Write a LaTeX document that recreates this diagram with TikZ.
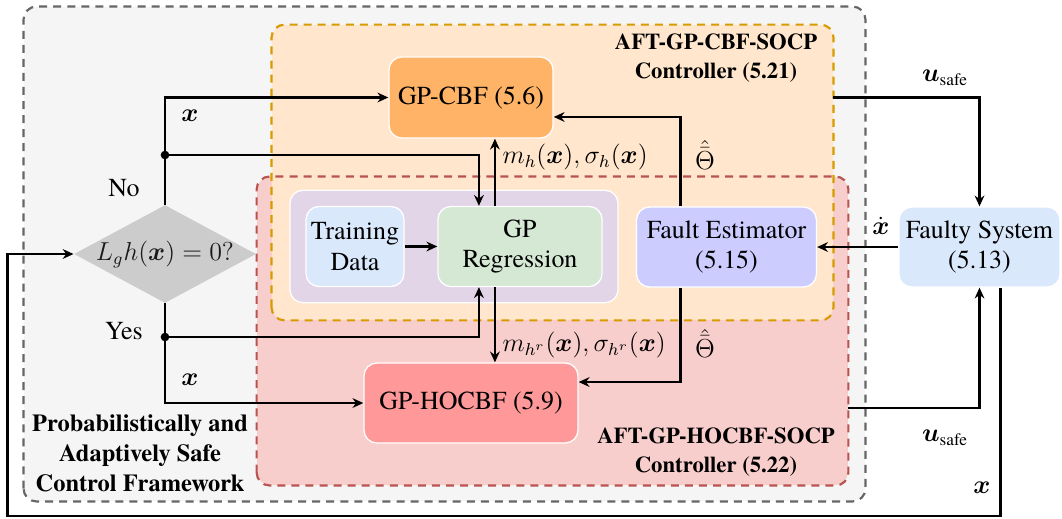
\documentclass[tikz,border=0pt]{standalone}
\usepackage{fontspec}
\setmainfont{texgyretermes}[Extension=.otf, UprightFont=*-regular, BoldFont=*-bold,
  ItalicFont=*-italic, BoldItalicFont=*-bolditalic]
\usepackage{amsmath}
\usepackage{tikz}
\usetikzlibrary{arrows.meta,shapes.geometric}
\definecolor{frmfill}{HTML}{F5F5F5}
\definecolor{frmline}{HTML}{666666}
\definecolor{cbffill}{HTML}{FFE6CC}
\definecolor{cbfline}{HTML}{D79B00}
\definecolor{hocfill}{HTML}{F8CECC}
\definecolor{hocline}{HTML}{B85450}
\definecolor{gpfill}{HTML}{E1D5E7}
\definecolor{bluefill}{HTML}{DAE8FC}
\definecolor{greenfill}{HTML}{D5E8D4}
\definecolor{violetfill}{HTML}{CCCCFF}
\definecolor{orangefill}{HTML}{FFB366}
\definecolor{redfill}{HTML}{FF9999}
\definecolor{decfill}{HTML}{CCCCCC}

\begin{document}
\begin{tikzpicture}[x=0.4625pt, y=-0.4625pt,
    FR/.style={rectangle, rounded corners=6pt, inner sep=0pt},
    DL/.style={dash pattern=on 3.7pt off 2.8pt, line width=1pt, rounded corners=6pt},
    BX/.style={rectangle, rounded corners=6pt, draw=white, line width=0.6pt,
      font=\fontsize{12}{14}\selectfont, align=center, inner sep=2pt},
    TT/.style={font=\fontsize{10.5}{13.4}\selectfont\bfseries, align=center},
    LB/.style={font=\fontsize{12}{14}\selectfont, inner sep=1pt},
    arr/.style={-{Stealth[length=5pt, width=4.5pt]}, line width=1pt},
    dot/.style={circle, fill=black, inner sep=0pt, minimum size=4pt}
  ]
    \useasboundingbox (0,0) rectangle (1062,518);

    %% frames
    \node[FR, fill=frmfill, minimum width=389pt, minimum height=228.5pt] (frame) at (444.5,254) {};
    \draw[DL, frmline] (frame.south west) rectangle (frame.north east);
    \node[FR, fill=hocfill, minimum width=273.3pt, minimum height=142.5pt] (hocbox) at (552.5,331) {};
    \node[FR, fill=cbffill, minimum width=259.5pt, minimum height=136.4pt] (cbfbox) at (552.5,172.5) {};
    \draw[DL, hocline] (hocbox.south west) rectangle (hocbox.north east);
    \draw[DL, cbfline] (cbfbox.south west) rectangle (cbfbox.north east);

    \node[TT] (cbftitle) at (716,58) {AFT-GP-CBF-SOCP\\Controller (5.21)};
    \node[TT] (hoctitle) at (716,452) {AFT-GP-HOCBF-SOCP\\Controller (5.22)};
    \node[TT, font=\fontsize{11.3}{13.9}\selectfont\bfseries] (frmtitle) at (140,453)
      {Probabilistically and\\Adaptively Safe\\Control Framework};

    %% GP block
    \node[BX, fill=gpfill, minimum width=151.7pt, minimum height=52pt] (gp) at (454,246.5) {};
    \node[BX, fill=bluefill, minimum width=45.3pt, minimum height=37pt] (train) at (355,246.5) {Training\\Data};
    \node[BX, fill=greenfill, minimum width=75.9pt, minimum height=37pt] (reg) at (520,246.5) {GP\\Regression};

    %% controllers, estimator, plant
    \node[BX, fill=orangefill, minimum width=75.9pt, minimum height=37.5pt] (cbf) at (471,97.5) {GP-CBF (5.6)};
    \node[BX, fill=redfill, minimum width=99pt, minimum height=37pt] (hocbf) at (471,403) {GP-HOCBF (5.9)};
    \node[BX, fill=violetfill, minimum width=83.2pt, minimum height=37pt] (fe) at (726.5,247) {Fault Estimator\\(5.15)};
    \node[BX, fill=bluefill, minimum width=74.5pt, minimum height=37pt] (sys) at (979.5,247) {Faulty System\\(5.13)};

    %% decision
    \node[diamond, fill=decfill, minimum width=84.2pt, minimum height=45.3pt, inner sep=0pt] (dec) at (165,254) {};
    \node[LB, text=black!90] (dectext) at (dec) {$L_gh(\boldsymbol{x})=0?$};
    \coordinate (j1) at (165,155);
    \coordinate (j2) at (165,337);
    \coordinate (fbk) at (7.5,516);
    \node[dot] (d1) at (j1) {};
    \node[dot] (d2) at (j2) {};

    %% labels
    \node[LB] (no) at (124,188) {No};
    \node[LB] (yes) at (124,331) {Yes};
    \node[LB] (xa) at (190,116) {$\boldsymbol{x}$};
    \node[LB] (xb) at (190,380) {$\boldsymbol{x}$};
    \node[LB, anchor=west] (mh) at (500,157) {$m_h(\boldsymbol{x}),\sigma_h(\boldsymbol{x})$};
    \node[LB, anchor=west] (mhr) at (500,345) {$m_{h^r}(\boldsymbol{x}),\sigma_{h^r}(\boldsymbol{x})$};
    \node[LB] (tha) at (705,155) {$\hat{\bar{\Theta}}$};
    \node[LB] (thb) at (705,343) {$\hat{\bar{\Theta}}$};
    \node[LB] (ua) at (945,78) {$\boldsymbol{u}_{\text{safe}}$};
    \node[LB] (ub) at (945,438) {$\boldsymbol{u}_{\text{safe}}$};
    \node[LB] (xd) at (881,226) {$\dot{\boldsymbol{x}}$};
    \node[LB] (xc) at (982,488) {$\boldsymbol{x}$};

    %% arrows
    \draw[arr] (dec.north) |- (cbf.west);
    \draw[arr] (j1) -| ([xshift=-19pt]reg.north);
    \draw[arr] ([xshift=-11.6pt]reg.north) -- ([xshift=-11.6pt]reg.north |- cbf.south);
    \draw[arr] (dec.south) |- (hocbf.west);
    \draw[arr] (j2) -| ([xshift=-19pt]reg.south);
    \draw[arr] ([xshift=-11.6pt]reg.south) -- ([xshift=-11.6pt]reg.south |- hocbf.north);
    \draw[arr] (train) -- (reg);
    \draw[arr] ([xshift=-21.3pt]fe.north) |- ([yshift=-9pt]cbf.east);
    \draw[arr] ([xshift=-21.3pt]fe.south) |- ([yshift=9.7pt]hocbf.east);
    \draw[arr] (sys) -- (fe);
    \draw[arr] (cbf -| cbfbox.east) -| (sys.north);
    \draw[arr] ([yshift=-2.3pt]hocbf -| hocbox.east) -| (sys.south);
    \draw[arr] ([xshift=9.7pt]sys.south) |- (fbk) |- (dec.west);
  \end{tikzpicture}
\end{document}
